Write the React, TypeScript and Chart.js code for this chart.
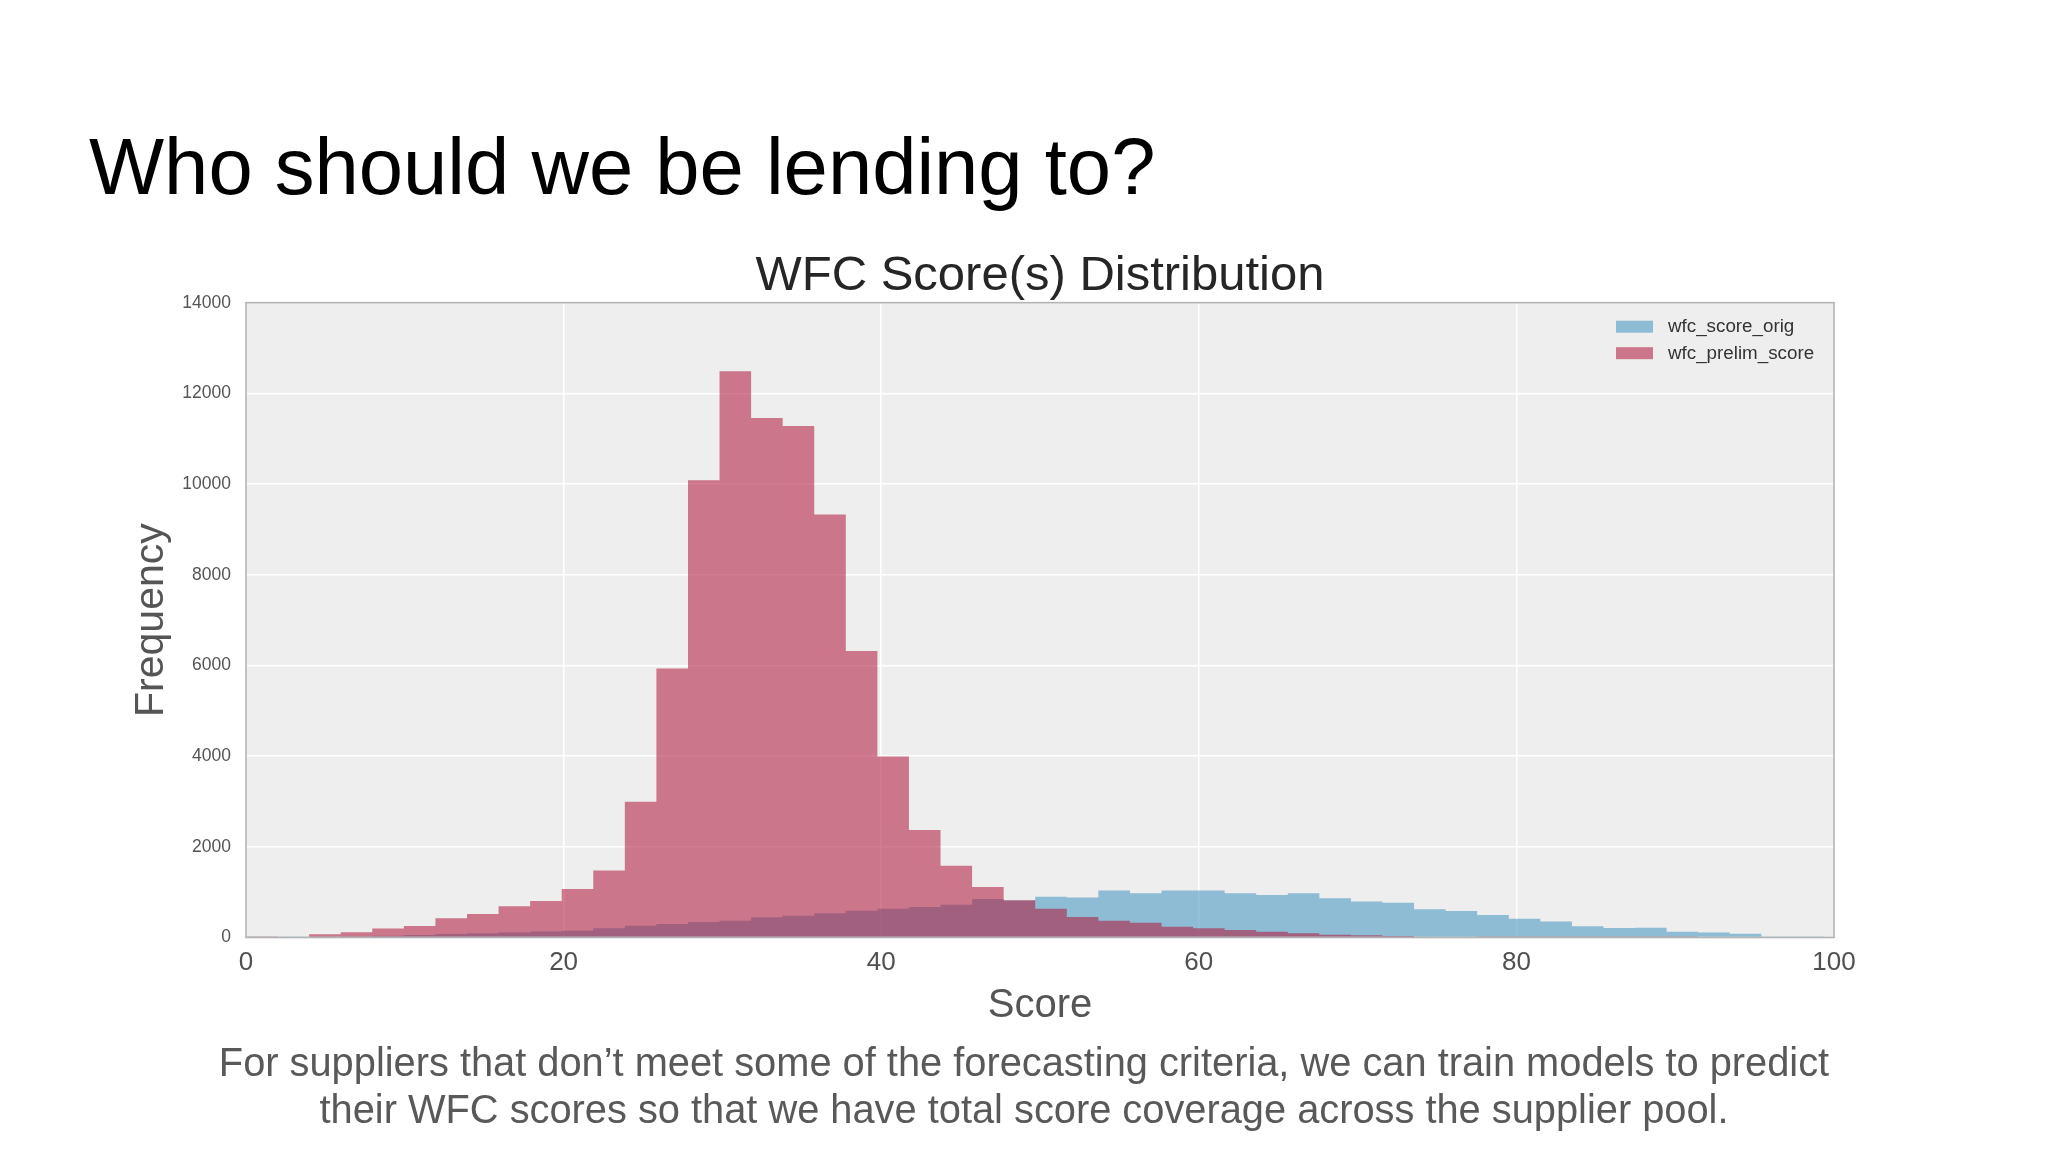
import React, { useEffect, useRef } from "react";
import { Chart, registerables } from "chart.js";

Chart.register(...registerables);

// ---- data ----
const binCenters = [
  0.994, 2.982, 4.97, 6.958, 8.946, 10.934, 12.922, 14.91, 16.898, 18.886,
  20.874, 22.862, 24.85, 26.838, 28.826, 30.814, 32.802, 34.79, 36.778, 38.766,
  40.754, 42.742, 44.73, 46.718, 48.706, 50.694, 52.682, 54.67, 56.658, 58.646,
  60.634, 62.622, 64.61, 66.598, 68.586, 70.574, 72.562, 74.55, 76.538, 78.526,
  80.514, 82.502, 84.49, 86.478, 88.466, 90.454, 92.442, 94.43, 96.418, 98.406,
];

const wfcScoreOrig = [
  2, 5, 12, 25, 40, 55, 75, 95, 110, 130,
  150, 203, 261, 298, 342, 371, 445, 482, 534, 592,
  636, 673, 720, 850, 815, 901, 880, 1034, 975, 1034,
  1034, 975, 940, 975, 865, 795, 769, 622, 585, 497,
  412, 355, 250, 210, 215, 125, 110, 80, 10, 3,
];

const wfcPrelimScore = [
  3, 15, 73, 118, 199, 255, 425, 517, 689, 804,
  1068, 1475, 2992, 5933, 10087, 12489, 11455, 11283, 9331, 6316,
  3991, 2370, 1580, 1115, 820, 635, 450, 372, 328, 239,
  202, 166, 129, 92, 63, 48, 33, 18, 15, 10,
  6, 4, 3, 2, 1, 1, 0, 0, 0, 0,
];

const seriesLabels = ["wfc_score_orig", "wfc_prelim_score"];
const xTicks = [0, 20, 40, 60, 80, 100];
const yTicks = [0, 2000, 4000, 6000, 8000, 10000, 12000, 14000];

const headingText = "Who should we be lending to?";
const chartTitle = "WFC Score(s) Distribution";
const xTitle = "Score";
const yTitle = "Frequency";
const footerLines = [
  "For suppliers that don\u2019t meet some of the forecasting criteria, we can train models to predict",
  "their WFC scores so that we have total score coverage across the supplier pool.",
];

// ---- style ----
const FONT = '"Liberation Sans", Arial, Helvetica, sans-serif';
const BLUE = "rgba(66, 150, 192, 0.57)";
const RED = "rgba(177, 26, 64, 0.57)";
const PLOT_BG = "#eeeeef";
const FRAME = "#b3b3b3";

// Paints each histogram dataset as one merged path (the bars' geometry comes
// from Chart.js' own bar elements), so translucent neighbouring bars show no seams.
const histogramPaint = {
  id: "histogramPaint",
  beforeDatasetDraw(chart: any, args: any) {
    const meta = args.meta;
    const ds = chart.data.datasets[args.index];
    const { ctx, chartArea: a } = chart;
    ctx.save();
    ctx.beginPath();
    ctx.rect(a.left, a.top, a.right - a.left, a.bottom - a.top);
    ctx.clip();
    ctx.beginPath();
    meta.data.forEach((bar: any) => {
      const { x, y, base, width } = bar.getProps(["x", "y", "base", "width"], true);
      const h = Math.abs(base - y);
      if (h > 0) ctx.rect(x - width / 2, Math.min(y, base), width, h);
    });
    ctx.fillStyle = ds.backgroundColor;
    ctx.fill();
    ctx.restore();
    return false;
  },
};

const plotFrame = {
  id: "plotFrame",
  beforeDraw(chart: any) {
    const { ctx, chartArea: a } = chart;
    ctx.save();
    ctx.fillStyle = PLOT_BG;
    ctx.fillRect(a.left, a.top, a.right - a.left, a.bottom - a.top);
    ctx.restore();
  },
  afterDatasetsDraw(chart: any) {
    const { ctx, chartArea: a } = chart;
    ctx.save();
    ctx.strokeStyle = FRAME;
    ctx.lineWidth = 1.6;
    ctx.strokeRect(a.left, a.top, a.right - a.left, a.bottom - a.top);
    // legend (upper right, inside the plot)
    ctx.font = `18.8px ${FONT}`;
    ctx.textBaseline = "middle";
    ctx.textAlign = "left";
    chart.data.datasets.forEach((ds: any, i: number) => {
      const sx = a.right - 218;
      const sy = a.top + 18 + i * 26.5;
      ctx.fillStyle = ds.backgroundColor;
      ctx.fillRect(sx, sy, 37, 12);
      ctx.fillStyle = "#333333";
      ctx.fillText(ds.label, a.right - 166, sy + 6.5);
    });
    ctx.restore();
  },
};

function HistogramChart() {
  const ref = useRef<HTMLCanvasElement | null>(null);
  useEffect(() => {
    if (!ref.current) return;
    const chart = new Chart(ref.current, {
      type: "bar",
      data: {
        datasets: [
          {
            label: seriesLabels[0],
            data: binCenters.map((x, i) => ({ x, y: wfcScoreOrig[i] })),
            backgroundColor: BLUE,
            order: 1,
          },
          {
            label: seriesLabels[1],
            data: binCenters.map((x, i) => ({ x, y: wfcPrelimScore[i] })),
            backgroundColor: RED,
            order: 0,
          },
        ],
      },
      options: {
        responsive: false,
        animation: false,
        devicePixelRatio: 1,
        events: [],
        datasets: {
          bar: {
            barPercentage: 1,
            categoryPercentage: 1,
            grouped: false,
            borderWidth: 0,
          },
        },
        layout: { padding: { left: 0, right: 214, top: 251.5, bottom: 0 } },
        plugins: {
          legend: { display: false },
          tooltip: { enabled: false },
          title: {
            display: true,
            text: chartTitle,
            fullSize: false,
            color: "#262626",
            font: { family: FONT, size: 49, weight: "normal", lineHeight: 1 },
            padding: { top: 0, bottom: 2.2 },
          },
        },
        scales: {
          x: {
            type: "linear",
            min: 0,
            max: 100,
            offset: false,
            afterBuildTicks: (s: any) => {
              s.ticks = xTicks.map((v) => ({ value: v }));
            },
            afterFit: (s: any) => {
              s.height = 214.5;
            },
            ticks: {
              callback: (v: any) => String(v),
              color: "#505050",
              font: { family: FONT, size: 26 },
              padding: 10,
              maxRotation: 0,
              autoSkip: false,
            },
            grid: { color: "#ffffff", lineWidth: 1.5, drawTicks: false, offset: false },
            border: { display: false },
            title: {
              display: true,
              text: xTitle,
              color: "#555555",
              font: { family: FONT, size: 40 },
              padding: { top: 0, bottom: 122.4 },
            },
          },
          y: {
            type: "linear",
            min: 0,
            max: 14000,
            afterBuildTicks: (s: any) => {
              s.ticks = yTicks.map((v) => ({ value: v }));
            },
            afterFit: (s: any) => {
              s.width = 246;
            },
            ticks: {
              callback: (v: any) => String(v),
              color: "#555555",
              font: { family: FONT, size: 17.5 },
              padding: 15,
            },
            grid: { color: "#ffffff", lineWidth: 1.5, drawTicks: false },
            border: { display: false },
            title: {
              display: true,
              text: yTitle,
              color: "#555555",
              font: { family: FONT, size: 41 },
              padding: { top: 127, bottom: 0 },
            },
          },
        },
      },
      plugins: [plotFrame, histogramPaint],
    } as any);
    return () => chart.destroy();
  }, []);
  return (
    <canvas
      ref={ref}
      width={2048}
      height={1152}
      style={{ position: "absolute", left: 0, top: 0, width: 2048, height: 1152 }}
    />
  );
}

export default function App() {
  return (
    <div
      style={{
        position: "absolute",
        left: 0,
        top: 0,
        width: 2048,
        height: 1152,
        background: "#ffffff",
        overflow: "hidden",
        fontFamily: FONT,
      }}
    >
      <HistogramChart />
      <div
        style={{
          position: "absolute",
          left: 89,
          top: 127.3,
          fontSize: 79.6,
          lineHeight: "80px",
          color: "#000000",
          whiteSpace: "nowrap",
        }}
      >
        {headingText}
      </div>
      <div
        style={{
          position: "absolute",
          left: 0,
          width: 2048,
          top: 1038.6,
          fontSize: 39.8,
          lineHeight: "47.3px",
          color: "#595959",
          textAlign: "center",
          whiteSpace: "nowrap",
        }}
      >
        {footerLines.map((l, i) => (
          <div key={i}>{l}</div>
        ))}
      </div>
    </div>
  );
}
